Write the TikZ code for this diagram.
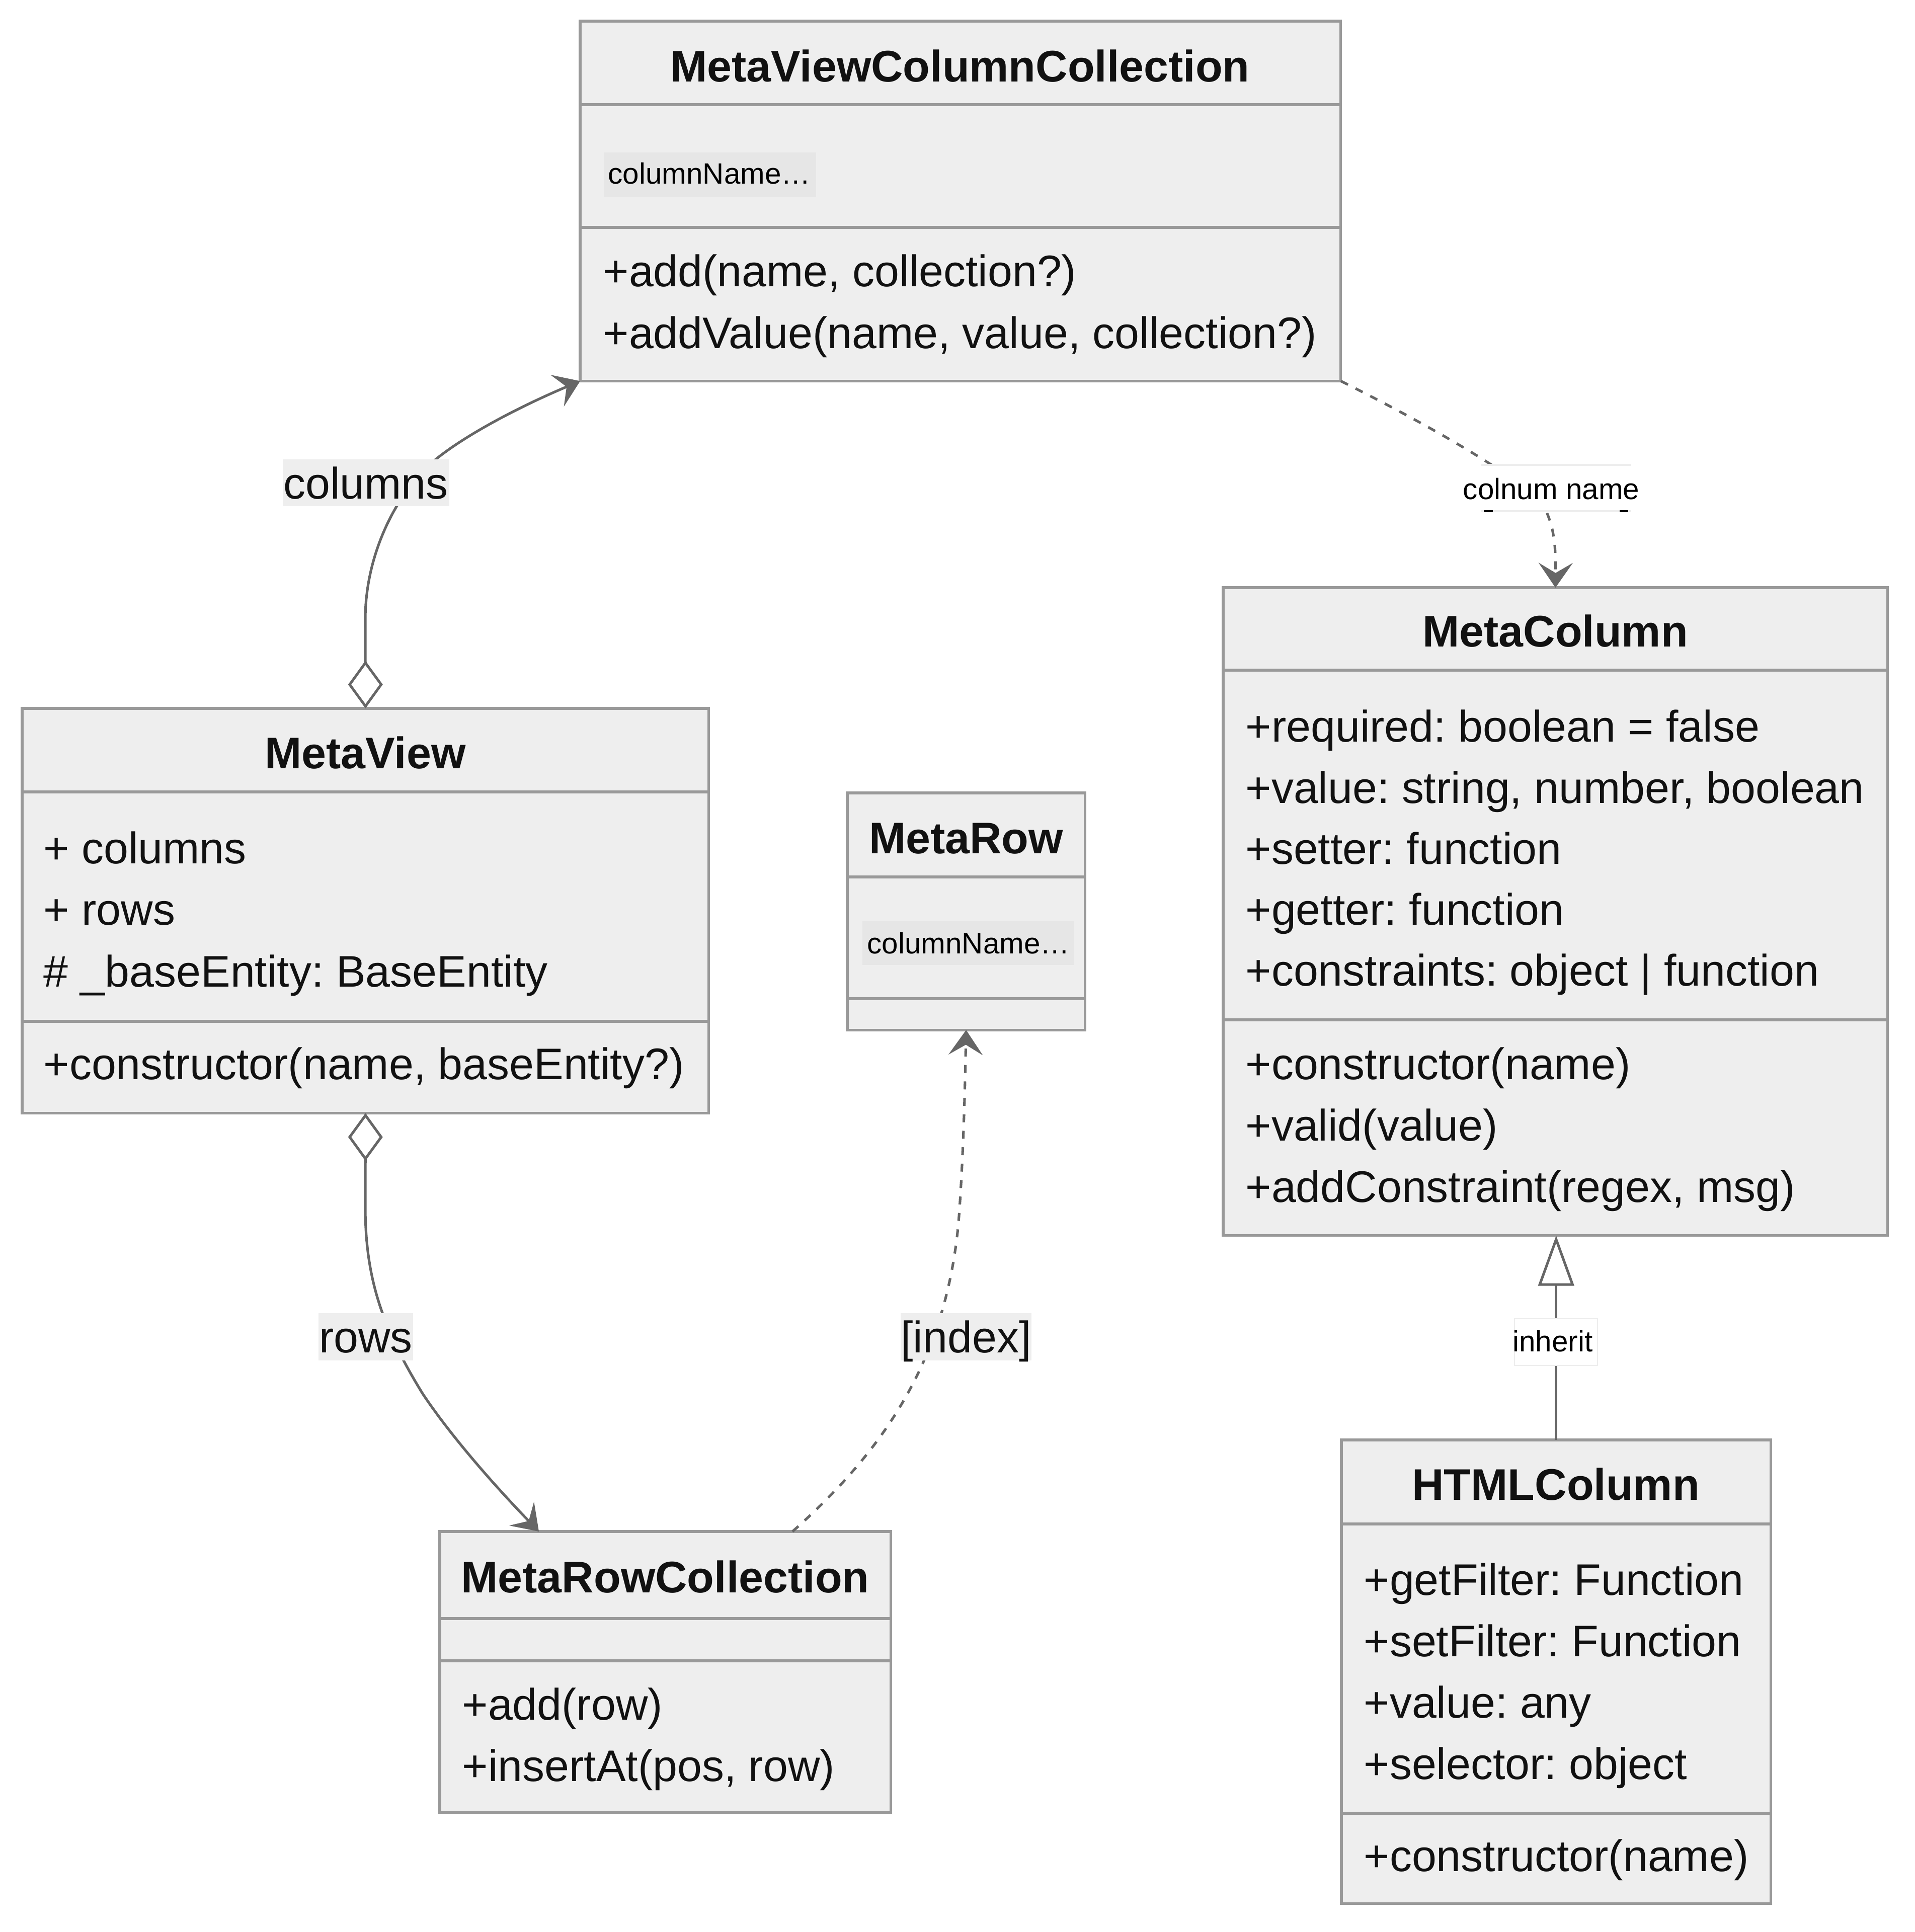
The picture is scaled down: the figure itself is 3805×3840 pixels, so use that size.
\documentclass[tikz,border=0pt]{standalone}
\usepackage{fontspec}
\setmainfont{Liberation Sans}
\usetikzlibrary{arrows.meta,calc}
\definecolor{boxfill}{HTML}{EEEEEE}
\definecolor{boxline}{HTML}{999999}
\definecolor{edgecol}{HTML}{666666}
\definecolor{txt}{HTML}{111111}
\definecolor{smallbg}{HTML}{E6E6E6}
\definecolor{faint}{HTML}{EDEDED}
\frenchspacing
\begin{document}
\frenchspacing
\begin{tikzpicture}[x=0.01cm,y=-0.01cm,
  classbox/.style={draw=boxline, fill=boxfill, line width=1.45pt, inner sep=0pt, outer sep=0pt, anchor=north west},
  sepline/.style={draw=boxline, line width=1.45pt},
  ttl/.style={anchor=base, font=\fontsize{25}{30}\selectfont\bfseries, text=txt, inner sep=0pt},
  mem/.style={anchor=base west, font=\fontsize{25}{30}\selectfont, text=txt, inner sep=0pt},
  lbltxt/.style={anchor=base, font=\fontsize{25}{30}\selectfont, text=txt, inner sep=0pt},
  smalltxt/.style={anchor=base west, font=\fontsize{16.6}{20}\selectfont, text=black, inner sep=0pt},
  smallctr/.style={anchor=base, font=\fontsize{16.6}{20}\selectfont, text=black, inner sep=0pt},
  bgbox/.style={inner sep=0pt, outer sep=0pt, draw=none},
  conn/.style={draw=edgecol, line width=1.45pt},
  dashconn/.style={conn, dash pattern=on 4.5pt off 4.8pt},
  headtip/.tip={Stealth[length=14pt, width=19.3pt, inset=5.7pt]},
  diamtip/.tip={Diamond[length=27pt, width=19.6pt, fill=white]},
  tritip/.tip={Triangle[length=28.4pt, width=20.2pt, fill=white]}
]
\useasboundingbox (0,0) rectangle (3805,3840);
\fill[white] (0,0) rectangle (3805,3840);

% ---------- class boxes ----------
\node[classbox, minimum width=15.11cm, minimum height=7.15cm] (mvcc) at (1153,42) {};
\draw[sepline] ($(mvcc.north west)+(0,166)$) -- ($(mvcc.north east)+(0,166)$);
\draw[sepline] ($(mvcc.north west)+(0,410)$) -- ($(mvcc.north east)+(0,410)$);

\node[classbox, minimum width=13.20cm, minimum height=12.87cm] (mc) at (2431,1168) {};
\draw[sepline] ($(mc.north west)+(0,164)$) -- ($(mc.north east)+(0,164)$);
\draw[sepline] ($(mc.north west)+(0,859)$) -- ($(mc.north east)+(0,859)$);

\node[classbox, minimum width=13.64cm, minimum height=8.04cm] (mv) at (44,1408) {};
\draw[sepline] ($(mv.north west)+(0,166)$) -- ($(mv.north east)+(0,166)$);
\draw[sepline] ($(mv.north west)+(0,622)$) -- ($(mv.north east)+(0,622)$);

\node[classbox, minimum width=4.72cm, minimum height=4.71cm] (mr) at (1684,1576) {};
\draw[sepline] ($(mr.north west)+(0,167)$) -- ($(mr.north east)+(0,167)$);
\draw[sepline] ($(mr.north west)+(0,409)$) -- ($(mr.north east)+(0,409)$);

\node[classbox, minimum width=8.96cm, minimum height=5.58cm] (mrc) at (874,3044) {};
\draw[sepline] ($(mrc.north west)+(0,173)$) -- ($(mrc.north east)+(0,173)$);
\draw[sepline] ($(mrc.north west)+(0,257)$) -- ($(mrc.north east)+(0,257)$);

\node[classbox, minimum width=8.53cm, minimum height=9.21cm] (hc) at (2666,2862) {};
\draw[sepline] ($(hc.north west)+(0,167)$) -- ($(hc.north east)+(0,167)$);
\draw[sepline] ($(hc.north west)+(0,742)$) -- ($(hc.north east)+(0,742)$);

% ---------- class texts ----------
\node[ttl] (mvccT) at (1908,163) {MetaViewColumnCollection};
\node[bgbox, fill=smallbg, minimum width=4.22cm, minimum height=0.88cm, anchor=north west] (mvccBg) at (1200,303) {};
\node[smalltxt] (mvccA) at (1208,366) {columnName…};
\node[mem] (mvccM1) at (1198,570) {+add(name, collection?)};
\node[mem] (mvccM2) at (1198,693) {+addValue(name, value, collection?)};

\node[ttl] (mcT) at (3091,1285) {MetaColumn};
\node[mem] (mcA1) at (2475,1474) {+required: boolean = false};
\node[mem] (mcA2) at (2475,1596) {+value: string, number, boolean};
\node[mem] (mcA3) at (2475,1717) {+setter: function};
\node[mem] (mcA4) at (2475,1838) {+getter: function};
\node[mem] (mcA5) at (2475,1959) {+constraints: object | function};
\node[mem] (mcM1) at (2475,2145) {+constructor(name)};
\node[mem] (mcM2) at (2475,2267) {+valid(value)};
\node[mem] (mcM3) at (2475,2389) {+addConstraint(regex, msg)};

\node[ttl] (mvT) at (726,1527) {MetaView};
\node[mem] (mvA1) at (86,1716) {+ columns};
\node[mem] (mvA2) at (86,1838) {+ rows};
\node[mem] (mvA3) at (86,1961) {\# \_baseEntity: BaseEntity};
\node[mem] (mvM1) at (86,2145) {+constructor(name, baseEntity?)};

\node[ttl] (mrT) at (1920,1696) {MetaRow};
\node[bgbox, fill=smallbg, minimum width=4.21cm, minimum height=0.87cm, anchor=north west] (mrBg) at (1714,1831) {};
\node[smalltxt] (mrA) at (1723,1895) {columnName…};

\node[ttl] (mrcT) at (1322,3165) {MetaRowCollection};
\node[mem] (mrcM1) at (918,3418) {+add(row)};
\node[mem] (mrcM2) at (918,3540) {+insertAt(pos, row)};

\node[ttl] (hcT) at (3092,2981) {HTMLColumn};
\node[mem] (hcA1) at (2710,3170) {+getFilter: Function};
\node[mem] (hcA2) at (2710,3292) {+setFilter: Function};
\node[mem] (hcA3) at (2710,3414) {+value: any};
\node[mem] (hcA4) at (2710,3536) {+selector: object};
\node[mem] (hcM1) at (2710,3719) {+constructor(name)};

% ---------- connectors ----------
\draw[conn, diamtip-headtip] (mv.north) -- (726,1230)
  .. controls (726,1100) and (790,975) .. (866,913)
  .. controls (930,861) and (1040,805) .. (mvcc.south west);

\draw[conn, diamtip-headtip] (mv.south) -- (726,2400)
  .. controls (726,2540) and (760,2640) .. (840,2770)
  .. controls (900,2860) and (990,2960) .. ($(mrc.north west)+(197,0)$);

\draw[dashconn, -headtip] ($(mrc.north west)+(701,0)$)
  .. controls (1760,2880) and (1880,2700) .. (1905,2430)
  .. controls (1915,2300) and (1918,2150) .. (mr.south);

\draw[dashconn, -headtip] (mvcc.south east)
  .. controls (2850,850) and (3040,960) .. (3070,1010)
  .. controls (3090,1050) and (3092,1090) .. (mc.north);

\draw[conn, -tritip] (hc.north) -- (hc.north |- mc.south);

% ---------- edge labels ----------
\node[bgbox, fill=boxfill, minimum width=3.31cm, minimum height=0.93cm] (colBg) at (727.5,959.5) {};
\node[lbltxt] (colT) at (727,991) {columns};

\node[bgbox, fill=boxfill, minimum width=1.88cm, minimum height=0.94cm] (rowsBg) at (727,2657) {};
\node[lbltxt] (rowsT) at (727,2688) {rows};

\node[bgbox, fill=boxfill, minimum width=2.60cm, minimum height=0.94cm] (idxBg) at (1920,2657) {};
\node[lbltxt] (idxT) at (1920,2688) {[index]};

\node[bgbox, fill=white, minimum width=2.98cm, minimum height=0.92cm, anchor=north west] (cnBg) at (2944,924) {};
\draw[faint, line width=1pt] (cnBg.north west) -- (cnBg.north east);
\draw[faint, line width=1pt] (cnBg.south west) -- (cnBg.south east);
\fill[black] ($(cnBg.south west)+(5,-2)$) rectangle ($(cnBg.south west)+(23,2)$);
\fill[black] ($(cnBg.south east)+(-23,-2)$) rectangle ($(cnBg.south east)+(-6,2)$);
\node[smallctr] (cnT) at (3083,992) {colnum name};

\node[bgbox, fill=white, draw=faint, line width=0.6pt, minimum width=1.65cm, minimum height=0.93cm, anchor=north west] (inhBg) at (3010,2621) {};
\node[smallctr] (inhT) at (3086,2686) {inherit};
\end{tikzpicture}
\end{document}
